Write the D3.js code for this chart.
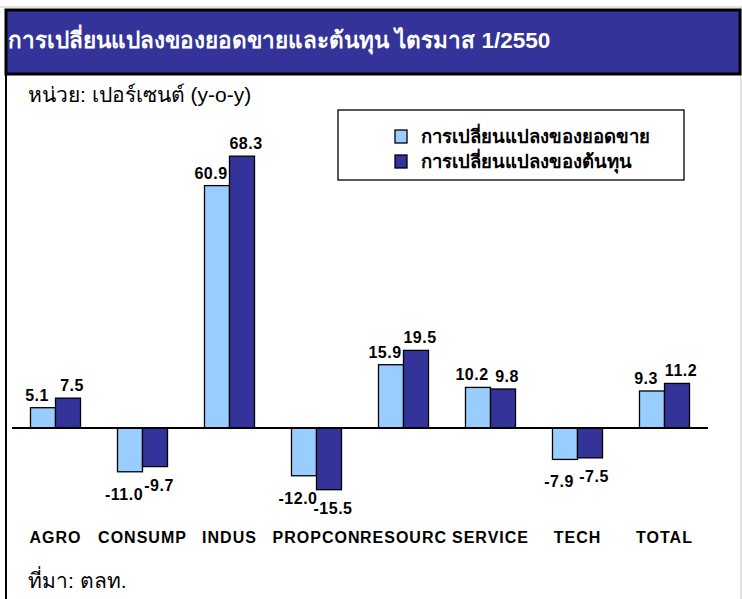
<!DOCTYPE html>
<html>
<head>
<meta charset="utf-8">
<script src="https://cdn.jsdelivr.net/npm/d3@7"></script>
<style>
  body { margin: 0; background: #fff; }
  text { font-family: "Liberation Sans", Arial, sans-serif; }
</style>
</head>
<body>
<div id="chart"></div>
<script>
// data
let categories = ["AGRO", "CONSUMP", "INDUS", "PROPCON", "RESOURC", "SERVICE", "TECH", "TOTAL"];
let salesChange = [5.1, -11.0, 60.9, -12.0, 15.9, 10.2, -7.9, 9.3];
let costChange = [7.5, -9.7, 68.3, -15.5, 19.5, 9.8, -7.5, 11.2];
let seriesNames = ["การเปลี่ยนแปลงของยอดขาย", "การเปลี่ยนแปลงของต้นทุน"];
let titleText = "การเปลี่ยนแปลงของยอดขายและต้นทุน ไตรมาส 1/2550";
let unitText = "หน่วย: เปอร์เซนต์ (y-o-y)";
let sourceText = "ที่มา: ตลท.";

let W = 742, H = 599;
let colors = ["#99ccff", "#333399"];

let svg = d3.select("#chart").append("svg")
    .attr("width", W)
    .attr("height", H);

// frame
svg.append("line")
    .attr("x1", 0).attr("x2", W).attr("y1", 7).attr("y2", 7)
    .attr("stroke", "#c8c8c8").attr("stroke-width", 1);
svg.append("line")
    .attr("x1", 741).attr("x2", 741).attr("y1", 7).attr("y2", H)
    .attr("stroke", "#c8c8c8").attr("stroke-width", 1);
svg.append("line")
    .attr("x1", 6).attr("x2", 6).attr("y1", 9).attr("y2", H)
    .attr("stroke", "#000").attr("stroke-width", 2);

// title band
svg.append("rect")
    .attr("x", 6).attr("y", 10)
    .attr("width", 734).attr("height", 64)
    .attr("fill", "#333399")
    .attr("stroke", "#000").attr("stroke-width", 3);

svg.append("text")
    .attr("x", 8).attr("y", 48)
    .attr("fill", "#fff")
    .style("font-size", "22.5px")
    .style("font-weight", "bold")
    .text(titleText);

svg.append("text")
    .attr("x", 28).attr("y", 102)
    .style("font-size", "21px")
    .text(unitText);

svg.append("text")
    .attr("x", 28).attr("y", 588)
    .style("font-size", "21px")
    .text(sourceText);

// scales
let x = d3.scaleBand()
    .domain(categories)
    .range([12, 708])
    .paddingInner(0.425)
    .paddingOuter(0.2125);

let x1 = d3.scaleBand()
    .domain([0, 1])
    .range([0, x.bandwidth()]);

let y = d3.scaleLinear()
    .domain([-30, 80])
    .range([428 + 30 * 3.98, 428 - 80 * 3.98]);

let rows = categories.map((c, i) => ({cat: c, vals: [salesChange[i], costChange[i]]}));

let groups = svg.selectAll(".cat")
    .data(rows)
    .enter()
    .append("g")
    .attr("class", "cat")
    .attr("transform", d => `translate(${x(d.cat)},0)`);

groups.selectAll("rect")
    .data(d => d.vals.map((v, s) => ({v: v, s: s})))
    .enter()
    .append("rect")
    .attr("x", d => x1(d.s))
    .attr("y", d => y(Math.max(0, d.v)))
    .attr("width", x1.bandwidth())
    .attr("height", d => Math.abs(y(d.v) - y(0)))
    .attr("fill", d => colors[d.s])
    .attr("stroke", "#000")
    .attr("stroke-width", 1.3);

// value labels: light ones nudged left, dark ones right so they don't collide
groups.selectAll(".val")
    .data(d => d.vals.map((v, s) => ({v: v, s: s})))
    .enter()
    .append("text")
    .attr("class", "val")
    .attr("text-anchor", "middle")
    .attr("x", d => x1(d.s) + x1.bandwidth() / 2 + (d.s === 0 ? -6 : 4))
    .attr("y", d => d.v >= 0 ? y(d.v) - 7 : y(d.v) + (d.s === 0 ? 28 : 24))
    .style("font-size", "16px")
    .style("font-weight", "bold")
    .style("letter-spacing", "0.5px")
    .text(d => d.v.toFixed(1));

// zero line
svg.append("line")
    .attr("x1", 12).attr("x2", 708)
    .attr("y1", y(0)).attr("y2", y(0))
    .attr("stroke", "#000").attr("stroke-width", 2);

// category labels
svg.selectAll(".catlabel")
    .data(categories)
    .enter()
    .append("text")
    .attr("class", "catlabel")
    .attr("text-anchor", "middle")
    .attr("x", d => x(d) + x.bandwidth() / 2)
    .attr("y", 543)
    .style("font-size", "16px")
    .style("font-weight", "bold")
    .style("letter-spacing", "1px")
    .text(d => d);

// legend
let legend = svg.append("g").attr("transform", "translate(338,110)");
legend.append("rect")
    .attr("width", 346).attr("height", 70)
    .attr("fill", "#fff")
    .attr("stroke", "#000").attr("stroke-width", 1.3);

let items = legend.selectAll(".item")
    .data(seriesNames)
    .enter()
    .append("g")
    .attr("class", "item")
    .attr("transform", (d, i) => `translate(57, ${20 + i * 25})`);

items.append("rect")
    .attr("width", 12).attr("height", 13)
    .attr("fill", (d, i) => colors[i])
    .attr("stroke", "#000").attr("stroke-width", 1.3);

items.append("text")
    .attr("x", 26).attr("y", 13)
    .style("font-size", "18.5px")
    .style("font-weight", "bold")
    .text(d => d);
</script>
</body>
</html>
